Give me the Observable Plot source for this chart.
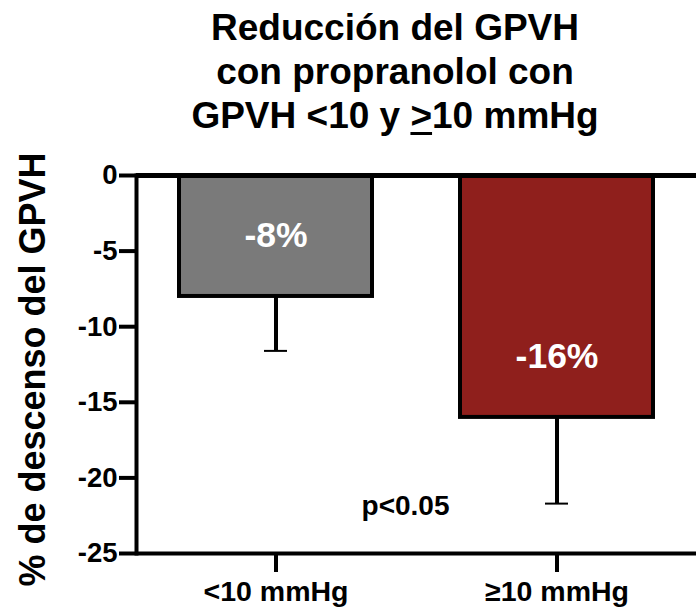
<!DOCTYPE html>
<html>
<head>
<meta charset="utf-8">
<script src="https://cdn.jsdelivr.net/npm/d3@7"></script>
<script src="https://cdn.jsdelivr.net/npm/@observablehq/plot@0.6"></script>
<style>
  html, body { margin: 0; padding: 0; background: #fff; }
  body { width: 696px; height: 607px; overflow: hidden; font-family: "Liberation Sans", Arial, sans-serif; }
  #title {
    box-sizing: border-box;
    height: 130px;
    padding: 6px 0 0 94px;
    text-align: center;
    font-weight: bold;
    font-size: 37px;
    line-height: 44px;
    color: #000;
    white-space: nowrap;
  }
  #title u { text-decoration-thickness: 3px; text-underline-offset: 4px; }
  #chart svg { display: block; }
</style>
</head>
<body>
<div id="title">Reducción del GPVH<br>con propranolol con<br>GPVH &lt;10 y <u>&gt;</u>10 mmHg</div>
<div id="chart"></div>
<script>
// Groups by baseline HVPG and the mean percent reduction with propranolol
const groups = ["<10 mmHg", "≥10 mmHg"];
const reduction = [-8, -16];
const errorLow = [-11.6, -21.7];
const barColors = ["#7a7a7a", "#8f1f1c"];
const yTicks = [0, -5, -10, -15, -20, -25];
const yLabel = "% de descenso del GPVH";
const pValue = "p<0.05";

const data = groups.map((g, i) => ({group: g, value: reduction[i], low: errorLow[i], color: barColors[i]}));

const font = "Liberation Sans, Arial, sans-serif";

const chart = Plot.plot({
  width: 696,
  height: 477,
  marginTop: 45,
  marginBottom: 54,
  marginLeft: 136,
  marginRight: 0,
  style: {fontFamily: font, color: "#000", background: "#fff", overflow: "visible"},
  x: {domain: groups, paddingInner: 0.312, paddingOuter: 0.149, label: null},
  y: {domain: [-25, 0], label: null},
  marks: [
    // error whiskers below each bar
    Plot.ruleX(data, {x: "group", y1: "value", y2: "low", stroke: "#000", strokeWidth: 4}),
    Plot.tickY(data, {x: "group", y: "low", stroke: "#000", strokeWidth: 2, insetLeft: 85, insetRight: 85}),
    Plot.barY(data, {x: "group", y: "value", fill: "color", stroke: "#000", strokeWidth: 4}),
    Plot.text(data, {
      x: "group", y: "value", text: d => `${d.value}%`,
      fill: "#fff", fontSize: 35.5, fontWeight: "bold", dy: -61
    }),
    // axes
    Plot.ruleY([0], {stroke: "#000", strokeWidth: 5}),
    Plot.ruleY([-25], {stroke: "#000", strokeWidth: 4}),
    Plot.frame({anchor: "left", stroke: "#000", strokeWidth: 4}),
    Plot.axisY({
      ticks: yTicks, tickFormat: d => String(d), tickSize: 17, tickPadding: 2,
      strokeWidth: 4, fontSize: 27.5, fontWeight: "bold", label: null
    }),
    Plot.axisX({
      tickSize: 19, tickPadding: 8, strokeWidth: 4,
      fontSize: 28.5, fontWeight: "bold", label: null
    }),
    Plot.text([yLabel], {
      frameAnchor: "left", textAnchor: "middle", lineAnchor: "middle",
      rotate: -90, dx: -103, dy: 5,
      fontSize: 36, fontWeight: "bold", fill: "#000"
    }),
    Plot.text([pValue], {
      frameAnchor: "bottom", dx: -11, dy: -39,
      fontSize: 28, fontWeight: "bold", fill: "#000"
    })
  ]
});

document.getElementById("chart").appendChild(chart);
</script>
</body>
</html>
